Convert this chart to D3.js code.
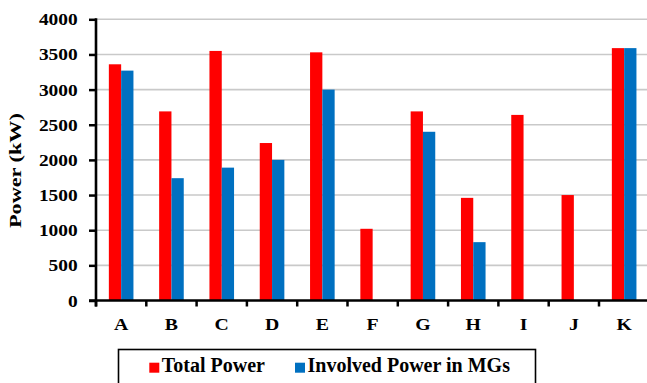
<!DOCTYPE html>
<html>
<head>
<meta charset="utf-8">
<script src="https://cdn.jsdelivr.net/npm/d3@7"></script>
<style>
  body { margin: 0; background: #fff; }
</style>
</head>
<body>
<div id="chart"></div>
<script>
// Data
const categories = ["A", "B", "C", "D", "E", "F", "G", "H", "I", "J", "K"];
const totalPower = [3360, 2690, 3550, 2240, 3530, 1020, 2690, 1460, 2640, 1500, 3590];
const involvedPower = [3270, 1740, 1890, 2000, 3000, 0, 2400, 830, 0, 0, 3590];
const seriesNames = ["Total Power", "Involved Power in MGs"];
const yTicks = [0, 500, 1000, 1500, 2000, 2500, 3000, 3500, 4000];

const width = 647;
const height = 383;
const plot = { left: 96, right: 649.3, top: 19.3, bottom: 300.5 };
const colors = ["#ff0000", "#0070c0"];
const serif = "'Liberation Serif', 'Times New Roman', Times, serif";

const svg = d3.select("#chart").append("svg")
    .attr("width", width)
    .attr("height", height);

svg.append("rect")
    .attr("width", width)
    .attr("height", height)
    .attr("fill", "#fff");

// Scales
const x0 = d3.scaleBand()
    .domain(categories)
    .range([plot.left, plot.right])
    .padding(0);

const barW = 12.3;
const x1 = d3.scaleBand()
    .domain(seriesNames)
    .range([x0.bandwidth() / 2 - barW, x0.bandwidth() / 2 + barW]);

const y = d3.scaleLinear()
    .domain([0, 4000])
    .range([plot.bottom, plot.top]);

// Gridlines
svg.append("g")
    .selectAll("line")
    .data(yTicks.filter(d => d > 0))
    .enter()
    .append("line")
    .attr("x1", plot.left)
    .attr("x2", width)
    .attr("y1", d => y(d))
    .attr("y2", d => y(d))
    .attr("stroke", "#c9c9c9")
    .attr("stroke-width", 1.6);

// Bars
const rows = categories.map((c, i) => ({ cat: c, values: [totalPower[i], involvedPower[i]] }));

const groups = svg.selectAll(".bar-group")
    .data(rows)
    .enter()
    .append("g")
    .attr("transform", d => `translate(${x0(d.cat)},0)`);

groups.selectAll("rect")
    .data(d => d.values.map((v, j) => ({ name: seriesNames[j], value: v, color: colors[j] })))
    .enter()
    .append("rect")
    .filter(d => d.value > 0)
    .attr("x", d => x1(d.name))
    .attr("y", d => y(d.value))
    .attr("width", x1.bandwidth())
    .attr("height", d => y(0) - y(d.value))
    .attr("fill", d => d.color);

// Y axis
const yAxis = svg.append("g")
    .attr("transform", `translate(${plot.left},0)`)
    .call(d3.axisLeft(y).tickValues(yTicks).tickSize(7).tickPadding(0).tickFormat(d3.format("d")))
    .attr("font-family", null)
    .attr("font-size", null);

yAxis.select(".domain").remove();
yAxis.selectAll(".tick line")
    .attr("stroke", "#000")
    .attr("stroke-width", 2.5);
yAxis.selectAll(".tick text")
    .attr("x", -15.4)
    .attr("dy", "0.34em")
    .attr("transform", "scale(1.19,1)")
    .style("font-size", "16.3px")
    .attr("fill", "#000");

svg.append("line")
    .attr("x1", plot.left)
    .attr("x2", plot.left)
    .attr("y1", plot.top - 1)
    .attr("y2", plot.bottom + 6)
    .attr("stroke", "#000")
    .attr("stroke-width", 2.6);

// X axis
svg.append("line")
    .attr("x1", plot.left - 7)
    .attr("x2", width)
    .attr("y1", plot.bottom)
    .attr("y2", plot.bottom)
    .attr("stroke", "#000")
    .attr("stroke-width", 2.6);

svg.append("g")
    .selectAll("line")
    .data(categories)
    .enter()
    .append("line")
    .attr("x1", d => x0(d))
    .attr("x2", d => x0(d))
    .attr("y1", plot.bottom)
    .attr("y2", plot.bottom + 6)
    .attr("stroke", "#000")
    .attr("stroke-width", 2.5);

svg.append("g")
    .selectAll("text")
    .data(categories)
    .enter()
    .append("text")
    .attr("transform", d => `translate(${x0(d) + x0.bandwidth() / 2},330) scale(1.2,1)`)
    .attr("text-anchor", "middle")
    .style("font-size", "16.5px")
    .text(d => d);

// Y axis title
svg.append("text")
    .attr("transform", "translate(21,170.5) rotate(-90)")
    .attr("text-anchor", "middle")
    .attr("textLength", 115)
    .attr("lengthAdjust", "spacingAndGlyphs")
    .style("font-size", "17px")
    .text("Power (kW)");

// Legend
const legend = svg.append("g");

legend.append("rect")
    .attr("x", 118.5)
    .attr("y", 349.5)
    .attr("width", 417)
    .attr("height", 45)
    .attr("fill", "#fff")
    .attr("stroke", "#000")
    .attr("stroke-width", 1.6);

const legendX = [149.3, 295];
seriesNames.forEach((name, i) => {
    legend.append("rect")
        .attr("x", legendX[i])
        .attr("y", 362.7)
        .attr("width", 10)
        .attr("height", 10)
        .attr("fill", colors[i]);

    legend.append("text")
        .attr("x", legendX[i] + 12.5)
        .attr("y", 372)
        .style("font-size", "20px")
        .text(name);
});

// Serif bold type everywhere, like the reference
svg.selectAll("text")
    .style("font-family", serif)
    .style("font-weight", "bold");
</script>
</body>
</html>
